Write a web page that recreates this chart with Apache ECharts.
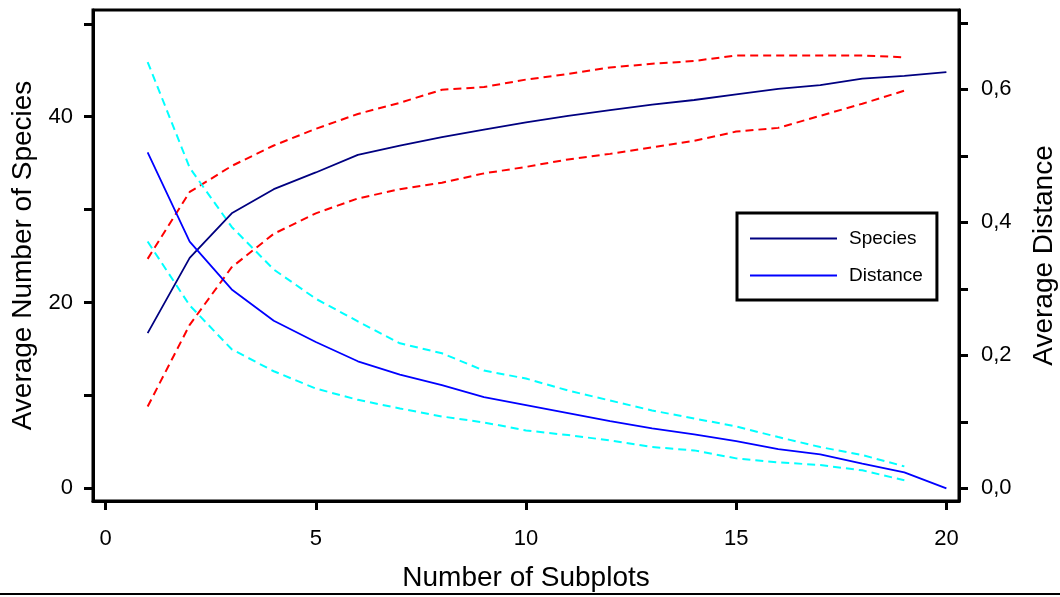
<!DOCTYPE html>
<html>
<head>
<meta charset="utf-8">
<script src="https://cdn.jsdelivr.net/npm/echarts@6/dist/echarts.min.js"></script>
<style>
  html, body { margin: 0; padding: 0; background: #fff; }
  #chart { width: 1060px; height: 597px; }
</style>
</head>
<body>
<div id="chart"></div>
<script>
const subplots = [1, 2, 3, 4, 5, 6, 7, 8, 9, 10, 11, 12, 13, 14, 15, 16, 17, 18, 19, 20];
const speciesMean = [16.7, 24.8, 29.6, 32.2, 34.0, 35.9, 36.9, 37.8, 38.6, 39.4, 40.1, 40.7, 41.3, 41.8, 42.4, 43.0, 43.4, 44.1, 44.4, 44.8];
const speciesUpper = [24.7, 31.9, 34.7, 36.9, 38.7, 40.3, 41.5, 42.9, 43.2, 44.0, 44.6, 45.3, 45.7, 46.0, 46.6, 46.6, 46.6, 46.6, 46.4];
const speciesLower = [8.8, 17.6, 23.8, 27.4, 29.6, 31.2, 32.2, 32.9, 33.9, 34.6, 35.4, 36.0, 36.7, 37.4, 38.4, 38.8, 40.1, 41.4, 42.8];
const distanceMean = [0.505, 0.371, 0.299, 0.252, 0.220, 0.191, 0.171, 0.155, 0.137, 0.125, 0.113, 0.101, 0.090, 0.081, 0.071, 0.059, 0.051, 0.037, 0.024, 0.0];
const distanceUpper = [0.641, 0.482, 0.393, 0.329, 0.285, 0.251, 0.218, 0.203, 0.177, 0.165, 0.147, 0.132, 0.117, 0.105, 0.093, 0.077, 0.062, 0.050, 0.033];
const distanceLower = [0.371, 0.275, 0.209, 0.176, 0.150, 0.133, 0.120, 0.108, 0.099, 0.087, 0.080, 0.072, 0.062, 0.057, 0.045, 0.039, 0.035, 0.027, 0.012];

const xTicks = [0, 5, 10, 15, 20];
const speciesTicks = [0, 10, 20, 30, 40, 50];
const speciesLabels = [0, 20, 40];
const distanceTicks = [0, 0.1, 0.2, 0.3, 0.4, 0.5, 0.6, 0.7];
const distanceLabels = [0, 0.2, 0.4, 0.6];

const font = 'Liberation Sans, Arial, sans-serif';
const pairs = (vals) => vals.map((v, i) => [subplots[i], v]);

const chart = echarts.init(document.getElementById('chart'), null, { renderer: 'canvas' });

const axisLine = { show: true, onZero: false, lineStyle: { color: '#000', width: 3 } };
const axisTick = (vals) => ({ show: true, inside: false, length: 9, lineStyle: { color: '#000', width: 3 }, customValues: vals });

function line(name, vals, color, yIndex, dashed) {
  return {
    name,
    type: 'line',
    yAxisIndex: yIndex,
    data: pairs(vals),
    symbol: 'none',
    silent: true,
    animation: false,
    lineStyle: { color, width: dashed ? 2 : 1.8, type: dashed ? [8, 5] : 'solid' },
    itemStyle: { color },
    z: dashed ? 2 : 3
  };
}

chart.setOption({
  animation: false,
  grid: {
    left: 93, top: 10, right: 101, bottom: 96,
    outerBoundsMode: 'none',
    show: true, borderColor: '#000', borderWidth: 3
  },
  legend: {
    data: [{ name: 'Species', icon: 'rect' }, { name: 'Distance', icon: 'rect' }],
    orient: 'vertical',
    left: 737,
    top: 213,
    padding: [16, 14, 15, 13],
    itemWidth: 87,
    itemHeight: 2,
    itemGap: 18,
    borderColor: '#000',
    borderWidth: 3,
    backgroundColor: '#fff',
    selectedMode: false,
    textStyle: { fontFamily: font, fontSize: 19, lineHeight: 19, color: '#000', padding: [0, 0, 0, 7] }
  },
  xAxis: {
    type: 'value',
    min: -0.3,
    max: 20.3,
    name: 'Number of Subplots',
    nameLocation: 'middle',
    nameGap: 63,
    nameTextStyle: { fontFamily: font, fontSize: 28, color: '#000' },
    axisLine,
    axisTick: axisTick(xTicks),
    axisLabel: { customValues: xTicks, margin: 27, fontFamily: font, fontSize: 22, color: '#000' },
    splitLine: { show: false }
  },
  yAxis: [
    {
      type: 'value',
      position: 'left',
      min: -1.37,
      max: 51.49,
      name: 'Average Number of Species',
      nameLocation: 'middle',
      nameRotate: 90,
      nameGap: 55,
      nameTextStyle: { fontFamily: font, fontSize: 28, color: '#000' },
      axisLine,
      axisTick: axisTick(speciesTicks),
      axisLabel: { customValues: speciesLabels, margin: 20, fontFamily: font, fontSize: 22, color: '#000' },
      splitLine: { show: false }
    },
    {
      type: 'value',
      position: 'right',
      min: -0.0191,
      max: 0.7192,
      name: 'Average Distance',
      nameLocation: 'middle',
      nameRotate: 90,
      nameGap: 71,
      nameTextStyle: { fontFamily: font, fontSize: 28, color: '#000' },
      axisLine,
      axisTick: axisTick(distanceTicks),
      axisLabel: {
        customValues: distanceLabels,
        margin: 22,
        fontFamily: font,
        fontSize: 22,
        color: '#000',
        formatter: (v) => v.toFixed(1).replace('.', ',')
      },
      splitLine: { show: false }
    }
  ],
  graphic: [
    { type: 'line', shape: { x1: 0, y1: 594, x2: 1060, y2: 594 }, style: { stroke: '#000', lineWidth: 2 }, silent: true }
  ],
  series: [
    line('SpeciesUpper', speciesUpper, '#ff0000', 0, true),
    line('SpeciesLower', speciesLower, '#ff0000', 0, true),
    line('DistanceUpper', distanceUpper, '#00ffff', 1, true),
    line('DistanceLower', distanceLower, '#00ffff', 1, true),
    line('Species', speciesMean, '#000080', 0, false),
    line('Distance', distanceMean, '#0000ff', 1, false)
  ]
});
</script>
</body>
</html>
